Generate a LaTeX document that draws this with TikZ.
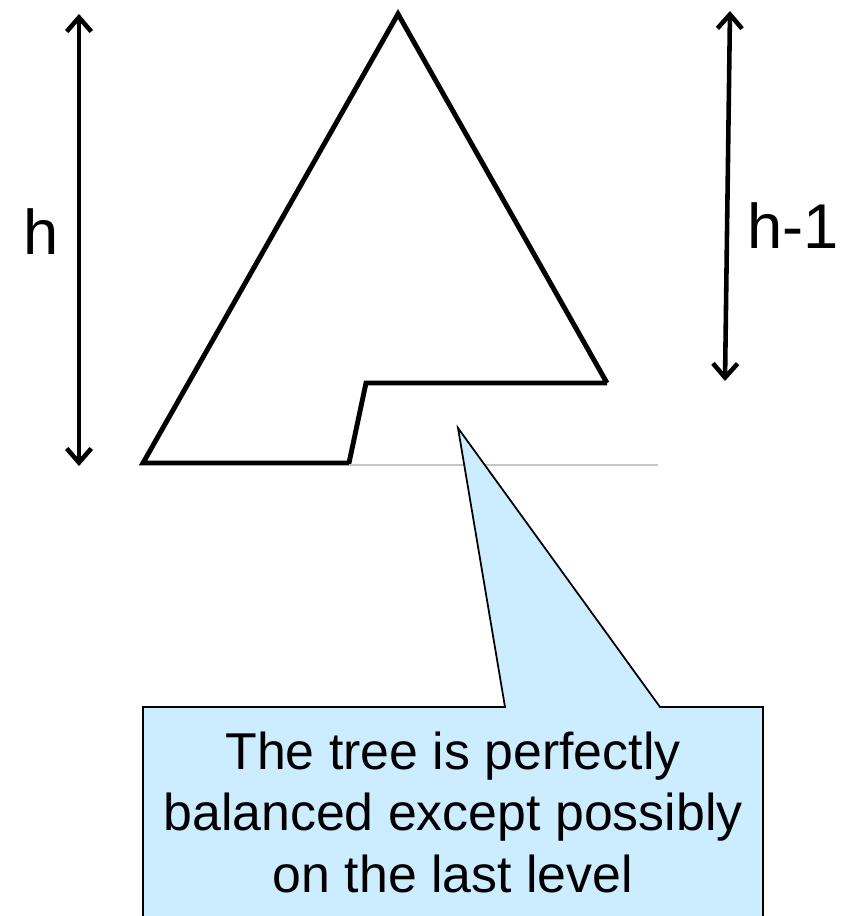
\documentclass[tikz,border=0pt]{standalone}
\usepackage{fontspec}
\setmainfont{Liberation Sans}
\usetikzlibrary{arrows.meta}
\definecolor{callblue}{HTML}{CCECFF}
\tikzset{
  dim/.style={{Straight Barb[length=8pt,width=14pt]}-{Straight Barb[length=8pt,width=14pt]}, black, line width=2.6pt},
  treeline/.style={black, line width=2.8pt, line join=miter},
  dimlab/.style={font=\fontsize{36}{40}\selectfont, anchor=base},
  note/.style={fill=callblue, draw=black, line width=1pt},
  notetext/.style={font=\fontsize{29.5}{35}\selectfont, align=center},
}
\begin{document}
\begin{tikzpicture}[x=0.02cm, y=-0.02cm]
  \useasboundingbox (0,0) rectangle (856,916);
  \clip (0,0) rectangle (856,916);

  % height arrows
  \coordinate (htop) at (79,14);
  \coordinate (hbot) at (79,466);
  \draw[dim] (hbot) -- (htop);
  \node[dimlab] (hlab) at (41,254) {h};

  \coordinate (htopr) at (730,11);
  \coordinate (hbotr) at (725,381);
  \draw[dim] (hbotr) -- (htopr);
  \node[dimlab] (hlabr) at (793,248) {h-1};

  % tree outline with the unfilled last level
  \coordinate (apex) at (398,14);
  \coordinate (bl) at (143,463);
  \coordinate (nb) at (349,463);
  \coordinate (nt) at (366,383);
  \coordinate (rend) at (607,383);
  \draw[treeline] (rend) -- (apex) -- (bl) -- (nb) -- (nt) -- (rend);
  \coordinate (lastend) at (658,465);
  \draw[gray!45, line width=0.6pt] (349,465) -- (lastend);

  % callout
  \coordinate (tip) at (458,428);
  \draw[note] (143,924) -- (143,707) -- (505,707) -- (tip) -- (660,707)
    -- (763,707) -- (763,924);
  \node[notetext] (msg) at (453,812) {The tree is perfectly\\balanced except possibly\\on the last level};
\end{tikzpicture}
\end{document}
